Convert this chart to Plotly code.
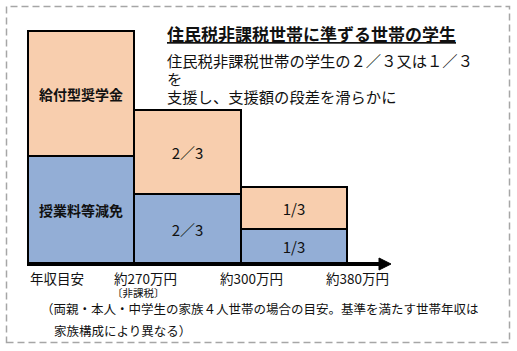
import plotly.graph_objects as go

# ---- data ----
bar_positions = [0.5, 1.5, 2.5]            # bar centres (one unit per income band)
reduction_vals = [108, 70, 35]              # 授業料等減免 (blue, bottom)
scholarship_vals = [125, 84, 42]            # 給付型奨学金 (orange, top)
reduction_text = ["<b>授業料等減免</b>", "2／3", "1/3"]
scholarship_text = ["<b>給付型奨学金</b>", "2／3", "1/3"]
tick_pos = [0, 1, 2, 3]
tick_labels = ["年収目安", "約270万円", "約300万円", "約380万円"]
subtitle_lines = ["住民税非課税世帯の学生の２／３又は１／３", "を", "支援し、支援額の段差を滑らかに"]

W, H = 517, 351
X0PX, UNIT = 28, 106.3
BASEPX = 264
FONT = "Noto Sans CJK JP"
ORANGE = "#F8CEAE"
BLUE = "#93AED6"

def xd(px):
    return (px - X0PX) / UNIT

def yd(py):
    return BASEPX - py

def pxp(px):
    return px / W

def pyp(py):
    return 1 - py / H

fig = go.Figure()
fig.add_trace(go.Bar(
    x=bar_positions, y=reduction_vals, width=1,
    marker=dict(color=BLUE, line=dict(color="black", width=2)),
    text=reduction_text, textposition="inside", insidetextanchor="middle",
    textangle=0, textfont=dict(family=FONT, size=[14, 15, 15], color="#111"),
    hoverinfo="skip", showlegend=False,
))
fig.add_trace(go.Bar(
    x=bar_positions, y=scholarship_vals, width=1,
    marker=dict(color=ORANGE, line=dict(color="black", width=2)),
    text=scholarship_text, textposition="inside", insidetextanchor="middle",
    textangle=0, textfont=dict(family=FONT, size=[14, 15, 15], color="#111"),
    hoverinfo="skip", showlegend=False,
))

shapes = [
    # dashed outer frame
    dict(type="rect", xref="paper", yref="paper",
         x0=pxp(6.5), x1=pxp(509.5), y0=pyp(342.5), y1=pyp(6.5),
         line=dict(color="#A6A6A6", width=1.5, dash="7px,4px")),
    # axis arrow shaft
    dict(type="line", xref="x", yref="y", x0=xd(27), x1=xd(382), y0=0, y1=0,
         line=dict(color="black", width=4)),
    # arrow head
    dict(type="path", xref="x", yref="y",
         path=f"M {xd(379)},{6} L {xd(391)},0 L {xd(379)},{-6} Z",
         fillcolor="black", line=dict(color="black", width=1)),
]

annotations = []
# tick labels
for i, (p, lab) in enumerate(zip(tick_pos, tick_labels)):
    annotations.append(dict(
        x=p, y=yd(278), xref="x", yref="y", text=lab, showarrow=False,
        xanchor="left" if i == 0 else "center", yanchor="middle",
        xshift=0 if i == 0 else 11,
        font=dict(family=FONT, size=13.5, color="#111")))
annotations.append(dict(
    x=tick_pos[1], y=yd(292), xref="x", yref="y", text="〔非課税〕", showarrow=False,
    xanchor="center", yanchor="middle", xshift=4,
    font=dict(family=FONT, size=10.5, color="#111")))

# title & subtitle
annotations.append(dict(
    x=pxp(165), y=pyp(33), xref="paper", yref="paper",
    text="<b><u>住民税非課税世帯に準ずる世帯の学生</u></b>", showarrow=False,
    xanchor="left", yanchor="middle", font=dict(family=FONT, size=17, color="#111")))
for line, py in zip(subtitle_lines, [60, 78, 96]):
    annotations.append(dict(
        x=pxp(165), y=pyp(py), xref="paper", yref="paper", text=line,
        showarrow=False, xanchor="left", yanchor="middle", align="left",
        font=dict(family=FONT, size=15.3, color="#111")))

# footnote
annotations.append(dict(
    x=pxp(39), y=pyp(308), xref="paper", yref="paper",
    text="（両親・本人・中学生の家族４人世帯の場合の目安。基準を満たす世帯年収は",
    showarrow=False, xanchor="left", yanchor="middle",
    font=dict(family=FONT, size=12.5, color="#111")))
annotations.append(dict(
    x=pxp(52), y=pyp(330), xref="paper", yref="paper",
    text="家族構成により異なる）",
    showarrow=False, xanchor="left", yanchor="middle",
    font=dict(family=FONT, size=12.5, color="#111")))

fig.update_layout(
    width=W, height=H, margin=dict(l=0, r=0, t=0, b=0),
    paper_bgcolor="white", plot_bgcolor="white",
    barmode="stack", bargap=0,
    xaxis=dict(range=[xd(0), xd(W)], visible=False, fixedrange=True),
    yaxis=dict(range=[yd(H), yd(0)], visible=False, fixedrange=True),
    shapes=shapes, annotations=annotations,
    uniformtext=dict(mode=False),
)

fig.write_html("out.html", config={"displayModeBar": False})
